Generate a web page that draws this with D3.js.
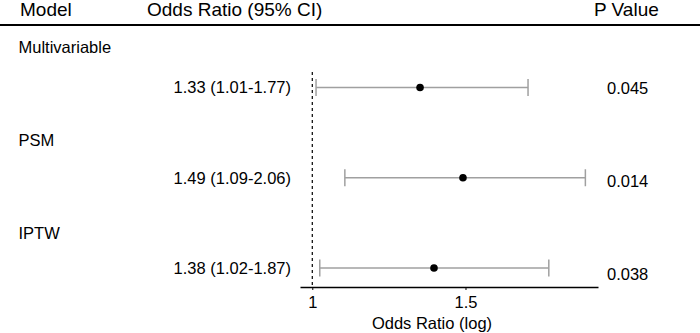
<!DOCTYPE html>
<html>
<head>
<meta charset="utf-8">
<script src="https://cdn.jsdelivr.net/npm/d3@7/dist/d3.min.js"></script>
<style>
  html, body { margin: 0; padding: 0; background: #fff; }
  svg { display: block; font-family: "Liberation Sans", Arial, Helvetica, sans-serif; }
</style>
</head>
<body>
<svg id="chart" width="700" height="333"></svg>
<script>
const models = ["Multivariable", "PSM", "IPTW"];
const orValues = [1.33, 1.49, 1.38];
const ciLower = [1.01, 1.09, 1.02];
const ciUpper = [1.77, 2.06, 1.87];
const pValues = ["0.045", "0.014", "0.038"];
const xTicks = [1, 1.5];

const svg = d3.select("#chart");
const width = 700;

const rows = models.map((m, i) => ({
  model: m, or: orValues[i], lo: ciLower[i], hi: ciUpper[i], p: pValues[i]
}));

// scales
const x = d3.scaleLog().domain([0.968, 2.13]).range([300, 598]);
const yRow = d3.scalePoint().domain(models).range([87.5, 268]);
const yLabel = d3.scalePoint().domain(models).range([47, 233]);
const yP = d3.scalePoint().domain(models).range([88, 274]);
const axisY = 287;

// header
const header = svg.append("g").attr("font-size", 19).attr("fill", "#000");
header.append("text").attr("x", 20).attr("y", 16).text("Model");
header.append("text").attr("x", 147).attr("y", 16).text("Odds Ratio (95% CI)");
header.append("text").attr("x", 594).attr("y", 16).text("P Value");
svg.append("line")
  .attr("x1", 0).attr("x2", width)
  .attr("y1", 25).attr("y2", 25)
  .attr("stroke", "#000").attr("stroke-width", 2);

// group labels
svg.append("g").selectAll("text")
  .data(rows).join("text")
  .attr("x", 18.5)
  .attr("y", d => yLabel(d.model))
  .attr("dy", "0.35em")
  .attr("font-size", 16.5)
  .text(d => d.model);

// OR (CI) text
svg.append("g").selectAll("text")
  .data(rows).join("text")
  .attr("x", 291)
  .attr("y", d => yRow(d.model))
  .attr("dy", "0.35em")
  .attr("text-anchor", "end")
  .attr("font-size", 16.5)
  .text(d => `${d3.format(".2f")(d.or)} (${d3.format(".2f")(d.lo)}-${d3.format(".2f")(d.hi)})`);

// p values
svg.append("g").selectAll("text")
  .data(rows).join("text")
  .attr("x", 607)
  .attr("y", d => yP(d.model))
  .attr("dy", "0.35em")
  .attr("font-size", 16.5)
  .text(d => d.p);

// reference line at OR = 1
svg.append("line")
  .attr("x1", x(1)).attr("x2", x(1))
  .attr("y1", 72).attr("y2", axisY)
  .attr("stroke", "#000").attr("stroke-width", 1.2)
  .attr("stroke-dasharray", "3,3");

// CI bars
const ci = svg.append("g").attr("stroke", "#a0a0a0").attr("stroke-width", 1.5);
ci.selectAll("line.ci")
  .data(rows).join("line").attr("class", "ci")
  .attr("x1", d => x(d.lo)).attr("x2", d => x(d.hi))
  .attr("y1", d => yRow(d.model)).attr("y2", d => yRow(d.model));
ci.selectAll("line.capl")
  .data(rows).join("line").attr("class", "capl")
  .attr("x1", d => x(d.lo)).attr("x2", d => x(d.lo))
  .attr("y1", d => yRow(d.model) - 8.5).attr("y2", d => yRow(d.model) + 8.5);
ci.selectAll("line.caph")
  .data(rows).join("line").attr("class", "caph")
  .attr("x1", d => x(d.hi)).attr("x2", d => x(d.hi))
  .attr("y1", d => yRow(d.model) - 8.5).attr("y2", d => yRow(d.model) + 8.5);

// points
svg.append("g").selectAll("circle")
  .data(rows).join("circle")
  .attr("cx", d => x(d.or))
  .attr("cy", d => yRow(d.model))
  .attr("r", 3.8)
  .attr("fill", "#000");

// x axis
const axis = svg.append("g")
  .attr("transform", `translate(0,${axisY})`)
  .call(d3.axisBottom(x).tickValues(xTicks).tickFormat(d3.format("~g"))
    .tickSize(3).tickSizeOuter(0).tickPadding(6));
axis.select(".domain").attr("stroke", "#000").attr("stroke-width", 1.3);
axis.selectAll(".tick line").attr("stroke", "#000");
axis.selectAll(".tick text")
  .attr("fill", "#000")
  .attr("font-size", 16.5)
  .attr("font-family", "Liberation Sans, Arial, Helvetica, sans-serif");

svg.append("text")
  .attr("x", 432).attr("y", 323)
  .attr("dy", "0.35em")
  .attr("text-anchor", "middle")
  .attr("font-size", 16.5)
  .text("Odds Ratio (log)");
</script>
</body>
</html>
